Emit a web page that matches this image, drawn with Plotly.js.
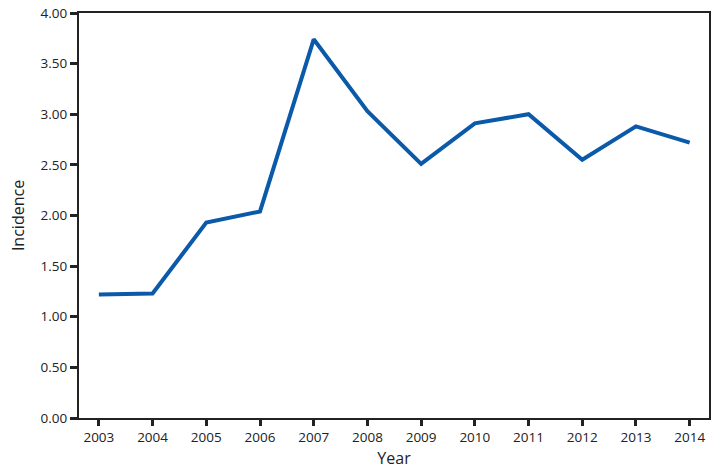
<!DOCTYPE html>
<html>
<head>
<meta charset="utf-8">
<script src="https://cdn.plot.ly/plotly-3.0.1.min.js"></script>
<style>html,body{margin:0;padding:0;background:#fff;}#chart{width:720px;height:471px;}</style>
</head>
<body>
<div id="chart"></div>
<script>
const years = [2003, 2004, 2005, 2006, 2007, 2008, 2009, 2010, 2011, 2012, 2013, 2014];
const incidence = [1.22, 1.23, 1.93, 2.04, 3.74, 3.03, 2.51, 2.91, 3.00, 2.55, 2.88, 2.72];
const yTicks = [0, 0.5, 1, 1.5, 2, 2.5, 3, 3.5, 4];
const yTickText = ["0.00", "0.50", "1.00", "1.50", "2.00", "2.50", "3.00", "3.50", "4.00"];

const trace = {
  x: years, y: incidence, type: 'scatter', mode: 'lines',
  line: {color: '#0b5aaa', width: 4}, hoverinfo: 'none'
};
const font = {family: '"Open Sans", "DejaVu Sans", sans-serif', size: 13, color: '#222'};
const layout = {
  width: 720, height: 471,
  margin: {l: 79, r: 11, t: 13, b: 53},
  paper_bgcolor: '#fff', plot_bgcolor: '#fff',
  showlegend: false,
  font: font,
  xaxis: {
    range: [2002.63, 2014.36],
    tickvals: years, ticktext: years.map(String),
    ticks: 'outside', ticklen: 6, tickwidth: 3, tickcolor: '#222',
    showline: true, linecolor: '#222', linewidth: 2, mirror: true,
    showgrid: false, zeroline: false,
    tickfont: {size: 13.5, color: '#222'},
    title: {text: 'Year', font: {size: 16, color: '#222'}, standoff: 8}
  },
  yaxis: {
    range: [0, 4],
    tickvals: yTicks, ticktext: yTickText,
    ticks: 'outside', ticklen: 7, tickwidth: 3, tickcolor: '#222',
    showline: true, linecolor: '#222', linewidth: 2, mirror: true,
    showgrid: false, zeroline: false,
    tickfont: {size: 13.5, color: '#222'},
    title: {text: 'Incidence', font: {size: 16, color: '#222'}, standoff: 12}
  }
};
Plotly.newPlot('chart', [trace], layout, {displayModeBar: false, staticPlot: true});
</script>
</body>
</html>
